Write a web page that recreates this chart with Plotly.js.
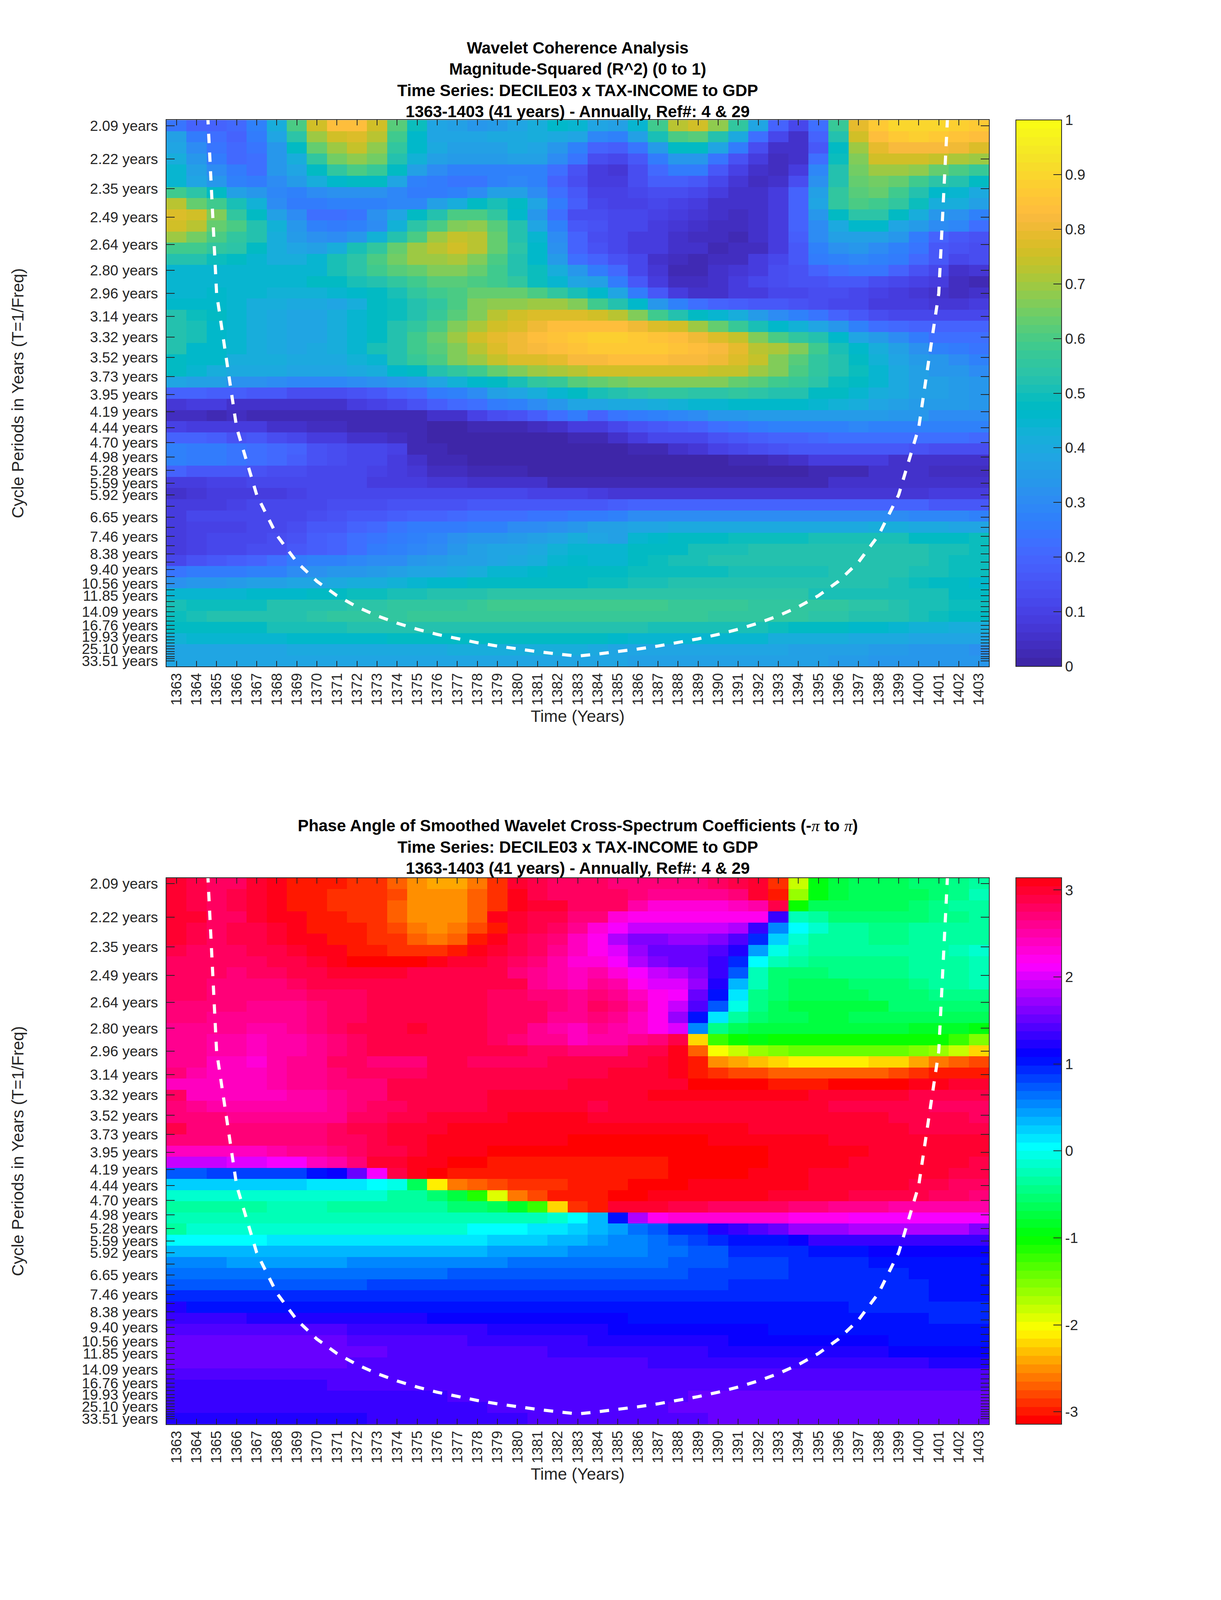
<!DOCTYPE html>
<html><head><meta charset="utf-8">
<script src="https://cdn.plot.ly/plotly-3.0.1.min.js"></script>
<style>html,body{margin:0;padding:0;background:#fff}</style></head>
<body><div id="chart"></div>
<script>
const years=[1363,1364,1365,1366,1367,1368,1369,1370,1371,1372,1373,1374,1375,1376,1377,1378,1379,1380,1381,1382,1383,1384,1385,1386,1387,1388,1389,1390,1391,1392,1393,1394,1395,1396,1397,1398,1399,1400,1401,1402,1403];
const tickPeriods=[2.09,2.22,2.35,2.49,2.64,2.80,2.96,3.14,3.32,3.52,3.73,3.95,4.19,4.44,4.70,4.98,5.28,5.59,5.92,6.27,6.65,7.05,7.46,7.91,8.38,8.88,9.40,9.96,10.56,11.19,11.85,12.55,13.30,14.09,14.93,15.82,16.76,17.75,18.81,19.93,21.11,22.37,23.70,25.10,26.59,28.17,29.85,31.63,33.51];
const tickLabels=['2.09 years','2.22 years','2.35 years','2.49 years','2.64 years','2.80 years','2.96 years','3.14 years','3.32 years','3.52 years','3.73 years','3.95 years','4.19 years','4.44 years','4.70 years','4.98 years','5.28 years','5.59 years','5.92 years','','6.65 years','','7.46 years','','8.38 years','','9.40 years','','10.56 years','','11.85 years','','','14.09 years','','','16.76 years','','','19.93 years','','','','25.10 years','','','','','33.51 years'];
const coiYears=[1364,1365,1366,1367,1368,1369,1370,1371,1372,1373,1374,1375,1376,1377,1378,1379,1380,1381,1382,1383,1384,1385,1386,1387,1388,1389,1390,1391,1392,1393,1394,1395,1396,1397,1398,1399,1400,1401,1402];
const coiPeriods=[1.48,2.96,4.44,5.92,7.4,8.88,10.36,11.84,13.32,14.8,16.28,17.76,19.24,20.72,22.2,23.68,25.16,26.64,28.12,29.6,28.12,26.64,25.16,23.68,22.2,20.72,19.24,17.76,16.28,14.8,13.32,11.84,10.36,8.88,7.4,5.92,4.44,2.96,1.48];

const c00=[.24,.20,.19,.21,.27,.42,.60,.75,.83,.83,.76,.62,.49,.38,.36,.33,.35,.38,.41,.46,.44,.39,.37,.44,.58,.72,.76,.68,.55,.38,.19,.11,.23,.57,.79,.87,.90,.90,.90,.885,.87];
const c01=[.36,.26,.23,.20,.26,.38,.54,.70,.76,.77,.72,.59,.46,.39,.38,.39,.40,.40,.41,.40,.38,.29,.27,.36,.50,.60,.62,.53,.40,.23,.11,.06,.19,.53,.75,.83,.865,.885,.87,.85,.83];
const c02=[.38,.31,.24,.21,.24,.34,.47,.63,.70,.74,.68,.56,.46,.40,.37,.37,.37,.40,.39,.34,.27,.19,.18,.24,.35,.47,.47,.38,.26,.14,.06,.05,.17,.48,.70,.79,.82,.82,.82,.80,.78];
const c03=[.42,.33,.26,.21,.22,.33,.42,.55,.65,.68,.65,.53,.43,.37,.35,.35,.35,.37,.36,.30,.24,.13,.11,.16,.26,.34,.33,.24,.15,.08,.04,.06,.22,.49,.67,.75,.76,.76,.745,.71,.70];
const c04=[.45,.36,.30,.26,.23,.33,.39,.47,.56,.60,.57,.47,.37,.31,.28,.27,.27,.28,.28,.23,.15,.08,.07,.13,.21,.25,.25,.17,.10,.06,.04,.09,.29,.53,.65,.70,.70,.68,.64,.60,.57];
const c05=[.45,.39,.34,.27,.26,.30,.35,.42,.46,.48,.47,.39,.28,.25,.24,.24,.28,.29,.27,.20,.13,.09,.08,.13,.18,.18,.16,.12,.07,.04,.06,.14,.32,.53,.63,.65,.63,.58,.54,.52,.47];
const c06=[.58,.54,.47,.37,.33,.29,.28,.30,.32,.32,.32,.29,.26,.25,.27,.31,.36,.37,.31,.23,.16,.10,.10,.11,.14,.14,.12,.09,.06,.05,.09,.19,.37,.55,.61,.63,.58,.53,.46,.44,.40];
const c07=[.72,.64,.59,.50,.43,.31,.25,.25,.27,.28,.28,.29,.29,.36,.42,.47,.51,.47,.38,.26,.18,.11,.10,.10,.11,.10,.08,.06,.05,.05,.08,.19,.38,.55,.60,.59,.55,.49,.42,.42,.36];
const c08=[.77,.75,.66,.56,.47,.37,.30,.23,.22,.24,.32,.38,.47,.53,.60,.60,.55,.46,.33,.23,.14,.14,.12,.11,.10,.08,.07,.05,.04,.05,.08,.19,.33,.47,.54,.54,.47,.41,.34,.32,.28];
const c09=[.76,.73,.64,.60,.52,.43,.33,.27,.25,.27,.30,.43,.54,.60,.66,.68,.62,.52,.38,.28,.17,.15,.12,.11,.09,.07,.06,.04,.04,.05,.08,.19,.30,.40,.46,.46,.39,.35,.30,.29,.23];
const c10=[.70,.65,.60,.55,.52,.41,.35,.32,.31,.34,.43,.52,.60,.69,.74,.72,.63,.53,.45,.30,.19,.14,.11,.09,.09,.06,.04,.04,.03,.05,.09,.18,.31,.36,.37,.37,.33,.26,.19,.17,.15];
const c11=[.59,.58,.55,.54,.47,.41,.38,.36,.42,.50,.56,.64,.70,.72,.76,.72,.64,.54,.46,.32,.20,.15,.12,.09,.09,.05,.05,.03,.04,.04,.09,.17,.27,.32,.33,.31,.28,.24,.17,.15,.13];
const c12=[.53,.53,.49,.47,.45,.42,.42,.44,.50,.54,.60,.65,.70,.70,.71,.67,.60,.53,.46,.35,.23,.20,.15,.12,.05,.04,.02,.04,.04,.08,.12,.17,.25,.28,.29,.28,.26,.21,.16,.12,.13];
const c13=[.45,.45,.44,.44,.44,.44,.45,.45,.50,.54,.59,.62,.64,.66,.66,.64,.59,.53,.49,.42,.33,.26,.21,.12,.07,.03,.02,.05,.07,.09,.13,.15,.19,.23,.24,.24,.20,.15,.11,.06,.07];
const c14=[.45,.45,.45,.45,.45,.45,.45,.47,.48,.50,.53,.56,.59,.62,.62,.60,.59,.55,.49,.44,.39,.36,.26,.16,.08,.04,.04,.05,.09,.11,.13,.15,.15,.17,.17,.14,.12,.10,.08,.04,.03];
const c15=[.45,.45,.46,.45,.44,.43,.43,.43,.45,.46,.48,.51,.55,.58,.60,.63,.63,.63,.60,.55,.51,.46,.38,.26,.16,.09,.06,.05,.08,.09,.11,.12,.13,.13,.12,.10,.09,.07,.05,.04,.05];
const c16=[.46,.46,.46,.44,.42,.41,.40,.40,.39,.41,.47,.49,.52,.56,.60,.66,.68,.68,.70,.70,.66,.58,.53,.46,.34,.27,.22,.19,.18,.17,.16,.15,.13,.11,.11,.09,.09,.09,.07,.07,.09];
const c17=[.52,.49,.47,.44,.42,.40,.39,.38,.41,.44,.47,.49,.53,.57,.62,.67,.72,.75,.77,.78,.77,.75,.72,.66,.58,.52,.48,.45,.41,.35,.31,.28,.24,.19,.17,.13,.12,.11,.11,.12,.12];
const c18=[.53,.50,.46,.44,.41,.40,.39,.39,.41,.44,.47,.52,.56,.60,.66,.71,.75,.77,.80,.83,.83,.83,.83,.80,.78,.75,.70,.64,.57,.51,.46,.43,.38,.33,.27,.23,.21,.20,.20,.20,.20];
const c19=[.53,.51,.46,.45,.41,.40,.39,.39,.42,.44,.48,.53,.59,.63,.70,.75,.79,.81,.83,.845,.87,.885,.885,.87,.85,.83,.80,.78,.74,.67,.60,.55,.52,.46,.38,.35,.31,.26,.23,.23,.23];
const c20=[.53,.46,.46,.44,.41,.40,.39,.40,.41,.44,.50,.53,.58,.61,.66,.73,.78,.80,.82,.83,.85,.87,.87,.87,.87,.85,.83,.82,.79,.73,.71,.66,.59,.51,.46,.41,.37,.32,.27,.25,.24];
const c21=[.47,.46,.46,.42,.41,.41,.40,.40,.40,.43,.45,.53,.57,.60,.66,.70,.74,.77,.78,.79,.82,.82,.83,.83,.83,.82,.82,.80,.77,.74,.66,.61,.56,.52,.48,.43,.39,.35,.33,.31,.27];
const c22=[.48,.44,.41,.40,.40,.40,.39,.38,.38,.40,.42,.46,.47,.53,.55,.59,.63,.66,.69,.71,.73,.75,.76,.76,.76,.76,.76,.74,.74,.70,.66,.60,.56,.52,.49,.45,.40,.37,.34,.34,.30];
const c23=[.38,.37,.36,.32,.32,.31,.29,.29,.29,.30,.32,.33,.35,.38,.43,.46,.47,.51,.56,.57,.61,.63,.65,.66,.66,.66,.66,.66,.63,.62,.59,.57,.54,.49,.47,.45,.40,.37,.36,.35,.33];
const c24=[.19,.19,.18,.18,.16,.16,.14,.14,.14,.15,.17,.19,.21,.25,.28,.31,.36,.39,.41,.45,.47,.50,.53,.54,.55,.55,.54,.54,.55,.54,.53,.53,.48,.47,.45,.42,.40,.37,.36,.35,.33];
const c25=[.07,.08,.08,.06,.06,.06,.05,.05,.06,.08,.10,.12,.15,.18,.21,.23,.26,.28,.31,.34,.38,.39,.40,.40,.41,.43,.44,.45,.46,.46,.46,.46,.45,.43,.42,.39,.37,.35,.35,.35,.34];
const c26=[.04,.04,.03,.04,.03,.03,.03,.02,.02,.02,.02,.02,.03,.05,.06,.10,.13,.15,.18,.22,.25,.20,.24,.26,.27,.29,.31,.33,.34,.35,.35,.35,.35,.35,.35,.35,.33,.33,.31,.31,.31];
const c27=[.10,.09,.09,.08,.08,.06,.05,.04,.04,.03,.02,.02,.02,.01,.01,.02,.02,.02,.04,.05,.08,.09,.11,.15,.16,.18,.20,.22,.24,.26,.27,.27,.28,.28,.29,.28,.28,.28,.28,.27,.27];
const c28=[.19,.19,.18,.15,.16,.14,.12,.08,.08,.06,.05,.04,.03,.01,.01,.01,.01,.01,.01,.01,.02,.03,.05,.08,.11,.12,.12,.15,.17,.18,.19,.20,.21,.22,.22,.23,.23,.23,.23,.22,.21];
const c29=[.27,.25,.25,.24,.23,.21,.19,.15,.14,.12,.12,.10,.03,.02,.01,.01,0,0,0,0,0,0,0,.02,.03,.06,.07,.10,.12,.14,.15,.16,.16,.16,.17,.17,.16,.15,.14,.13,.13];
const c30=[.27,.25,.25,.24,.22,.21,.18,.15,.14,.12,.12,.09,.06,.03,.03,.01,.01,0,0,0,0,0,0,0,0,0,0,.01,.02,.02,.04,.05,.08,.08,.09,.08,.06,.06,.05,.05,.06];
const c31=[.19,.17,.16,.16,.15,.14,.13,.12,.11,.11,.10,.08,.07,.04,.04,.03,.02,.02,.01,0,0,0,0,0,0,0,0,.01,.01,.01,.01,.01,.03,.03,.03,.05,.05,.05,.04,.04,.04];
const c32=[.08,.09,.10,.10,.11,.11,.11,.11,.11,.11,.09,.09,.08,.07,.07,.05,.05,.06,.05,.03,.02,.02,.02,.02,.02,.02,.02,.02,.02,.03,.03,.03,.03,.05,.05,.05,.05,.05,.06,.06,.06];
const c33=[.06,.07,.08,.08,.09,.09,.10,.11,.11,.11,.12,.12,.12,.12,.12,.12,.12,.11,.10,.10,.10,.09,.07,.07,.07,.07,.07,.07,.07,.07,.07,.07,.07,.07,.07,.07,.07,.07,.08,.08,.08];
const c34=[.09,.09,.09,.10,.11,.11,.11,.11,.13,.13,.13,.15,.15,.15,.15,.16,.17,.17,.17,.17,.17,.17,.18,.19,.19,.19,.19,.19,.19,.19,.19,.19,.19,.19,.19,.19,.19,.19,.17,.17,.17];
const c35=[.09,.11,.11,.11,.11,.12,.12,.14,.15,.16,.17,.18,.19,.20,.21,.22,.22,.23,.24,.24,.25,.26,.27,.30,.30,.30,.30,.30,.30,.30,.30,.30,.30,.30,.30,.30,.30,.29,.29,.29,.28];
const c36=[.09,.10,.10,.10,.11,.12,.14,.16,.17,.19,.21,.24,.25,.26,.26,.28,.28,.30,.31,.32,.33,.36,.36,.38,.39,.40,.40,.40,.40,.40,.40,.40,.40,.40,.40,.41,.41,.40,.40,.38,.38];
const c37=[.09,.10,.11,.12,.12,.13,.15,.18,.20,.22,.24,.26,.27,.29,.32,.33,.34,.35,.37,.39,.41,.39,.37,.44,.46,.47,.48,.48,.49,.49,.49,.49,.50,.50,.50,.50,.50,.47,.48,.48,.49];
const c38=[.09,.10,.11,.12,.13,.14,.17,.18,.20,.23,.25,.28,.29,.31,.34,.36,.38,.39,.40,.43,.45,.45,.45,.48,.47,.48,.51,.51,.51,.53,.53,.53,.53,.53,.53,.53,.53,.53,.50,.50,.49];
const c39=[.12,.15,.17,.18,.20,.22,.25,.27,.27,.29,.30,.31,.34,.35,.36,.37,.38,.40,.42,.44,.46,.44,.45,.48,.49,.50,.50,.52,.52,.52,.52,.52,.53,.53,.53,.53,.52,.52,.50,.49,.49];
const c40=[.24,.25,.25,.26,.27,.28,.30,.32,.33,.34,.35,.37,.38,.39,.40,.42,.44,.44,.46,.47,.48,.47,.47,.49,.49,.49,.49,.49,.51,.51,.51,.51,.51,.53,.53,.53,.52,.51,.50,.49,.49];
const c41=[.32,.33,.34,.35,.36,.37,.38,.39,.40,.41,.42,.43,.44,.46,.46,.47,.47,.47,.47,.47,.48,.49,.49,.50,.51,.52,.52,.52,.52,.52,.52,.52,.52,.52,.52,.52,.50,.49,.47,.47,.46];
const c42=[.45,.44,.44,.45,.46,.46,.46,.47,.48,.49,.49,.50,.50,.52,.52,.53,.54,.54,.54,.54,.54,.54,.54,.54,.54,.54,.54,.54,.54,.54,.54,.54,.51,.51,.51,.51,.51,.50,.50,.48,.47];
const c43=[.50,.49,.49,.49,.49,.52,.52,.53,.53,.54,.54,.55,.56,.56,.56,.57,.58,.58,.58,.58,.58,.58,.59,.59,.59,.57,.57,.57,.57,.56,.56,.56,.55,.55,.54,.54,.53,.50,.50,.49,.49];
const c44=[.49,.51,.52,.52,.52,.52,.53,.54,.55,.55,.56,.56,.57,.57,.57,.57,.57,.57,.57,.57,.57,.57,.57,.57,.57,.57,.57,.56,.56,.56,.55,.55,.54,.54,.53,.53,.52,.50,.49,.48,.48];
const c45=[.47,.47,.47,.48,.48,.50,.50,.50,.50,.52,.52,.52,.52,.52,.52,.52,.52,.52,.52,.52,.52,.53,.53,.53,.50,.50,.50,.50,.50,.50,.49,.47,.47,.47,.46,.46,.45,.43,.43,.42,.42];
const c46=[.43,.44,.45,.45,.45,.45,.46,.46,.46,.46,.46,.47,.47,.47,.47,.47,.47,.47,.47,.47,.47,.47,.46,.45,.45,.45,.45,.44,.44,.44,.42,.41,.41,.41,.40,.40,.40,.38,.38,.38,.38];
const c47=[.39,.39,.39,.39,.39,.39,.40,.40,.40,.40,.40,.40,.40,.40,.41,.41,.41,.41,.41,.41,.41,.40,.39,.39,.39,.39,.38,.38,.38,.38,.38,.37,.37,.36,.36,.35,.35,.34,.34,.33,.32];
const c48=[.38,.38,.38,.38,.38,.38,.38,.38,.38,.38,.38,.38,.38,.38,.38,.38,.38,.38,.38,.38,.38,.38,.38,.37,.37,.37,.37,.37,.37,.37,.36,.36,.36,.35,.35,.34,.34,.34,.33,.33,.33];

const p00=[2.95,2.85,2.82,2.82,2.95,3.05,-3.03,-3.03,-3.03,-2.92,-2.92,-2.72,-2.55,-2.43,-2.43,-2.62,-2.88,3.02,2.88,2.75,2.75,2.75,2.72,2.72,2.72,2.72,2.72,2.82,2.85,3.02,-2.85,-1.85,-.95,-.75,-.65,-.62,-.62,-.58,-.52,-.45,-.3];
const p01=[3,2.9,2.82,2.85,3,3.13,-3.02,-3.02,-2.92,-2.92,-2.92,-2.75,-2.55,-2.55,-2.55,-2.72,-2.88,3.07,2.92,2.82,2.75,2.8,2.8,2.72,2.58,2.58,2.58,2.58,2.68,2.95,-3,-1.6,-.9,-.72,-.65,-.65,-.65,-.6,-.5,-.45,-.28];
const p02=[3,2.9,2.82,2.85,3,3.13,-3.02,-3.02,-2.92,-2.92,-2.92,-2.72,-2.55,-2.5,-2.5,-2.72,-2.88,3.07,2.95,2.95,2.75,2.78,2.75,2.5,2.35,2.35,2.35,2.35,2.45,2.55,2.85,-1,-.65,-.62,-.62,-.62,-.62,-.52,-.42,-.38,-.3];
const p03=[2.95,2.95,2.82,2.82,2.95,3.08,3.13,-3.02,-3.02,-2.92,-2.92,-2.72,-2.55,-2.5,-2.5,-2.7,3.1,3,2.9,2.85,2.7,2.7,2.35,2.2,2.2,2.2,2.2,2.2,2.2,2.2,1.3,-.2,-.3,-.55,-.55,-.55,-.55,-.55,-.45,-.42,-.3];
const p04=[2.95,2.88,2.82,2.85,2.92,3.02,3.12,-3.02,-3.02,-3.02,-2.92,-2.82,-2.6,-2.5,-2.6,-2.82,-3,2.95,2.88,2.8,2.6,2.3,2.15,1.9,1.9,1.9,1.9,1.9,1.85,1.35,.5,.05,-.12,-.35,-.35,-.42,-.42,-.38,-.33,-.3,-.3];
const p05=[2.95,2.88,2.82,2.85,2.92,3.02,3.07,3.13,-3.02,-3.02,-2.92,-2.85,-2.72,-2.62,-2.72,-2.95,3.13,2.9,2.82,2.7,2.45,2.2,1.85,1.6,1.6,1.75,1.75,1.65,1.45,.95,.2,-.1,-.35,-.38,-.38,-.42,-.42,-.38,-.33,-.3,-.3];
const p06=[2.9,2.82,2.78,2.78,2.85,2.92,3,3.05,3.13,-2.98,-2.98,-2.9,-2.9,-2.9,-3,3.13,3,2.92,2.75,2.62,2.45,2.2,2,1.7,1.55,1.55,1.55,1.4,1.2,.42,-.05,-.2,-.3,-.38,-.38,-.38,-.38,-.33,-.3,-.28,-.15];
const p07=[2.82,2.8,2.78,2.76,2.82,2.87,2.92,2.97,3.05,-3.14,-3.14,-3.14,-3.14,3.05,3,2.95,2.9,2.75,2.7,2.55,2.35,2.3,2.15,1.8,1.6,1.5,1.5,1.3,.95,.05,-.25,-.35,-.42,-.42,-.42,-.42,-.42,-.35,-.33,-.3,-.25];
const p08=[2.82,2.78,2.76,2.74,2.76,2.8,2.85,2.92,2.97,2.97,2.97,2.97,2.9,2.9,2.9,2.9,2.87,2.7,2.65,2.55,2.4,2.55,2.3,2.15,1.95,1.8,1.6,1.35,.7,-.2,-.5,-.5,-.55,-.48,-.48,-.48,-.48,-.38,-.35,-.3,-.25];
const p09=[2.82,2.78,2.74,2.74,2.74,2.74,2.78,2.85,2.88,2.88,2.88,2.88,2.85,2.85,2.85,2.85,2.85,2.85,2.6,2.5,2.45,2.62,2.55,2.2,2.05,2,1.7,1.25,.35,-.25,-.5,-.6,-.6,-.6,-.5,-.5,-.5,-.42,-.38,-.35,-.28];
const p10=[2.78,2.78,2.7,2.7,2.7,2.7,2.7,2.78,2.78,2.78,2.85,2.85,2.85,2.85,2.85,2.85,2.75,2.75,2.7,2.7,2.62,2.7,2.65,2.4,2.2,2.1,1.55,1.02,.15,-.4,-.55,-.65,-.65,-.65,-.65,-.55,-.55,-.5,-.45,-.42,-.42];
const p11=[2.72,2.72,2.72,2.68,2.58,2.58,2.58,2.7,2.78,2.78,2.85,2.85,2.85,2.85,2.85,2.85,2.75,2.75,2.75,2.7,2.58,2.75,2.68,2.5,2.25,1.95,1.4,.7,-.05,-.45,-.6,-.7,-.7,-.7,-.7,-.7,-.55,-.55,-.52,-.52,-.5];
const p12=[2.72,2.72,2.65,2.65,2.58,2.58,2.6,2.72,2.78,2.78,2.85,2.85,2.85,2.85,2.85,2.85,2.75,2.75,2.75,2.62,2.58,2.7,2.6,2.45,2.2,1.75,1.05,.1,-.35,-.55,-.65,-.65,-.7,-.7,-.6,-.6,-.6,-.6,-.6,-.6,-.6];
const p13=[2.65,2.65,2.6,2.6,2.48,2.48,2.58,2.68,2.78,2.85,2.85,2.85,3,2.85,2.85,2.85,2.78,2.78,2.65,2.55,2.42,2.6,2.5,2.4,2.25,2.05,.5,-.4,-.65,-.75,-.75,-.75,-.78,-.78,-.78,-.7,-.7,-.8,-.8,-.8,-.9];
const p14=[2.58,2.58,2.55,2.55,2.4,2.5,2.5,2.6,2.68,2.78,2.85,2.85,2.85,2.85,2.85,2.85,2.8,2.72,2.65,2.6,2.45,2.55,2.48,2.65,2.7,2.88,-2.25,-1.2,-1,-.95,-1,-1,-1,-1,-1,-1,-1,-1,-1.05,-1.2,-1.5];
const p15=[2.58,2.58,2.55,2.55,2.42,2.55,2.55,2.6,2.72,2.78,2.85,2.92,2.92,2.85,2.85,2.85,2.85,2.85,2.8,2.8,2.7,2.7,2.72,2.85,2.92,3.12,-2.7,-2.05,-1.85,-1.65,-1.55,-1.45,-1.42,-1.42,-1.42,-1.42,-1.42,-1.52,-1.65,-1.78,-2.25];
const p16=[2.58,2.58,2.45,2.38,2.35,2.5,2.6,2.65,2.75,2.8,2.72,2.72,2.72,2.85,2.85,2.82,2.82,2.82,2.82,2.85,2.88,2.85,2.85,2.9,3,3.13,-2.95,-2.55,-2.4,-2.35,-2.25,-2.1,-2.1,-2.1,-2.1,-2.25,-2.25,-2.42,-2.6,-2.7,-2.8];
const p17=[2.68,2.5,2.42,2.38,2.38,2.5,2.6,2.62,2.72,2.75,2.78,2.82,2.82,2.85,2.88,2.88,2.88,2.92,2.92,2.92,2.92,2.88,2.95,3.02,3.02,3.07,-3.02,-2.92,-2.78,-2.78,-2.72,-2.72,-2.72,-2.72,-2.72,-2.72,-2.82,-2.92,-2.95,-3.02,-3.02];
const p18=[2.38,2.4,2.38,2.38,2.38,2.48,2.58,2.6,2.7,2.72,2.72,2.85,2.85,2.92,2.92,2.92,2.92,2.92,2.92,2.92,3,2.98,2.98,3,3.02,3.02,-3.14,-3.14,-3.14,-3.1,-3.02,-3.02,-3.02,-3.14,-3.14,-3.14,-3.14,3.08,3.05,3.02,3.02];
const p19=[2.8,2.45,2.45,2.42,2.42,2.45,2.55,2.55,2.65,2.72,2.7,2.85,2.88,2.9,2.92,2.92,3,3.02,3.02,3.02,3.02,3,3.02,3.02,3.05,3.05,3.05,3.1,3.1,3.1,3.1,3.1,3,2.98,2.98,2.98,2.98,2.9,2.85,2.85,2.85];
const p20=[2.72,2.62,2.55,2.55,2.55,2.55,2.55,2.55,2.6,2.68,2.75,2.78,2.88,2.92,2.92,2.92,3,3,3,3,3,2.92,2.95,3,3,3,3,3,3,3,3,3,3,2.92,2.92,2.92,2.92,2.85,2.8,2.75,2.75];
const p21=[2.72,2.7,2.68,2.65,2.65,2.65,2.65,2.65,2.65,2.75,2.82,2.9,2.92,2.95,2.95,3,3.02,3.05,3.05,3.05,3.05,3.02,3,3.02,3.02,3.02,3.02,3.02,3.02,3.02,3.02,3.02,3.02,2.95,2.95,2.95,2.9,2.9,2.9,2.85,2.78];
const p22=[2.88,2.72,2.72,2.7,2.7,2.7,2.72,2.72,2.82,2.88,2.88,2.95,3,3,3.05,3.05,3.05,3.05,3.05,3.1,3.1,3.1,3.08,3.08,3.08,3.08,3.08,3.08,3.07,3,3,3,3,3,3,3,3,2.88,2.88,2.85,2.85];
const p23=[2.72,2.72,2.7,2.68,2.68,2.72,2.72,2.72,2.8,2.82,2.9,2.95,3,3.05,3.05,3.1,3.1,3.1,3.1,3.1,-3.14,-3.14,-3.14,-3.14,-3.14,-3.14,-3.14,3.05,3.05,3.05,3.05,3.05,3.05,3,3,3,2.98,2.95,2.95,2.95,2.95];
const p24=[2.4,2.4,2.4,2.42,2.42,2.52,2.6,2.65,2.72,2.8,2.85,2.92,3,3.07,3.07,3.07,-3.14,-3.14,-3.14,-3.14,-3.14,-3.14,-3.14,-3.14,-3.14,-3.14,-3.14,-3.14,-3.14,-3.14,3.08,3.08,3.08,3.08,3.05,3,3,3,3,3,3];
const p25=[1.95,1.9,1.9,2,2.05,2.15,2.15,2.4,2.55,2.72,2.95,3.02,3.08,3.14,-3.14,-3.14,-3.03,-3.03,-3.03,-3.03,-3.03,-3.03,-3.03,-3.03,-3.03,-3.14,-3.14,-3.14,-3.14,-3.14,3.05,3.05,3.05,3.05,2.95,2.95,2.95,2.95,2.95,2.95,2.85];
const p26=[.75,.75,.85,.88,.88,.88,.88,1.05,1.15,1.55,2.15,2.85,3.1,-3.14,-3.03,-3.03,-3.03,-3.03,-3.03,-3.03,-3.03,-3.03,-3.03,-3.03,-3.03,-3.14,-3.14,-3.14,-3.14,3.1,3.1,3.1,3,3,3,3,3,2.95,2.95,2.9,2.9];
const p27=[.2,.2,.2,.2,.2,.2,.2,.12,.12,.1,.05,-.08,-.6,-2.15,-2.65,-2.72,-2.8,-2.92,-2.92,-2.92,-3.03,-3.03,-3.03,-3.14,-3.14,-3.14,3.1,3.08,3.08,3.05,3.05,3.05,3,3,3,2.95,2.95,2.85,2.85,2.82,2.82];
const p28=[-.15,-.15,-.15,-.15,-.15,-.15,-.15,-.15,-.15,-.15,-.15,-.3,-.33,-.52,-.75,-1.15,-1.95,-2.6,-2.75,-2.95,-3,-3.03,-3.14,-3.14,3.07,3.07,3.05,3.05,3.05,3.05,2.98,2.98,2.98,2.95,2.9,2.9,2.88,2.85,2.82,2.75,2.72];
const p29=[-.38,-.38,-.38,-.38,-.38,-.25,-.25,-.25,-.33,-.33,-.33,-.33,-.33,-.35,-.5,-.55,-.65,-.8,-1.2,-2.25,-2.9,-3.03,3.02,3.02,3,2.92,2.92,2.82,2.82,2.78,2.78,2.7,2.7,2.62,2.62,2.6,2.55,2.55,2.55,2.55,2.55];
const p30=[-.28,-.28,-.28,-.28,-.28,-.28,-.28,-.28,-.28,-.28,-.28,-.28,-.28,-.28,-.28,-.28,-.28,-.28,-.28,-.15,0,.35,1.05,1.85,2.2,2.28,2.3,2.3,2.3,2.3,2.3,2.25,2.25,2.2,2.15,2.15,2.15,2.15,2.15,2.15,2.13];
const p31=[-.35,-.12,-.12,-.12,-.12,-.12,-.12,-.12,-.12,-.12,-.12,-.12,-.12,-.12,-.12,0,0,0,.12,.12,.2,.35,.4,.6,.75,.95,.95,1.2,1.3,1.45,1.55,1.75,1.75,1.75,1.85,1.85,1.85,1.85,1.85,1.85,1.65];
const p32=[.02,.02,.02,.02,.02,.15,.15,.15,.15,.15,.15,.15,.15,.15,.15,.15,.22,.22,.22,.33,.33,.43,.52,.52,.6,.72,.8,.92,1.02,1.05,1.05,1.15,1.3,1.35,1.35,1.35,1.35,1.35,1.35,1.35,1.35];
const p33=[.33,.33,.33,.33,.33,.33,.33,.33,.33,.33,.33,.33,.33,.33,.33,.33,.42,.42,.42,.42,.52,.55,.55,.55,.68,.68,.78,.78,.9,.9,.95,.95,1.05,1.05,1.05,1.12,1.12,1.12,1.12,1.12,1.12];
const p34=[.52,.52,.52,.45,.45,.45,.45,.45,.45,.52,.52,.52,.52,.52,.52,.52,.52,.63,.63,.63,.63,.6,.68,.68,.68,.75,.75,.75,.87,.87,.87,.97,.97,.97,.97,1.05,1.05,1.05,1.05,1.05,1.05];
const p35=[.66,.66,.66,.66,.66,.66,.66,.66,.66,.66,.66,.66,.66,.66,.74,.74,.74,.74,.74,.74,.74,.72,.72,.72,.72,.72,.82,.82,.82,.82,.82,.92,.92,.92,.92,.92,.92,1.03,1.03,1.03,1.03];
const p36=[.76,.76,.76,.76,.76,.76,.76,.76,.76,.76,.83,.83,.83,.83,.83,.83,.83,.83,.83,.83,.85,.83,.83,.83,.83,.83,.83,.83,.95,.95,.95,.95,.95,.95,.95,.95,.95,.95,1.05,1.05,1.05];
const p37=[.9,.9,.9,.9,.9,.9,.9,.9,.9,.9,.9,.9,.9,.9,.9,.9,.9,.97,.97,.97,.97,.97,.97,.97,.97,.97,.97,.97,.97,.97,.97,.97,.97,.97,.97,.97,.97,.97,1.04,1.04,1.04];
const p38=[1.2,1.05,1.05,1.05,1.05,1.05,1.05,1.05,1.05,1.05,1.05,1.05,1.05,1.05,1.05,1.05,1.05,1.05,1.05,1.05,1.05,1.05,1.05,1.05,1.05,1.05,1.05,1.05,1.05,1.05,1.05,1.05,1.05,1.05,.97,.97,.97,.97,.97,.97,.97];
const p39=[1.3,1.3,1.3,1.3,1.2,1.2,1.2,1.2,1.2,1.2,1.2,1.2,1.2,1.13,1.13,1.13,1.13,1.13,1.13,1.13,1.13,1.15,1.15,1.05,1.05,1.05,1.05,1.05,1.05,1.05,1.05,1.05,1.05,1.05,1.05,1.05,1.05,1.05,.97,.97,.97];
const p40=[1.38,1.38,1.38,1.38,1.38,1.38,1.38,1.38,1.38,1.28,1.28,1.28,1.28,1.28,1.28,1.28,1.18,1.18,1.18,1.18,1.18,1.18,1.14,1.14,1.14,1.14,1.14,1.14,1.14,1.14,1.05,1.05,1.05,1.05,1.05,1.05,1.05,1.05,1.05,1.05,1.05];
const p41=[1.55,1.55,1.55,1.55,1.55,1.55,1.55,1.55,1.55,1.45,1.45,1.45,1.45,1.45,1.45,1.35,1.35,1.35,1.35,1.35,1.35,1.23,1.23,1.23,1.23,1.23,1.23,1.23,1.15,1.15,1.15,1.15,1.15,1.15,1.15,1.15,1.05,1.05,1.05,1.05,1.05];
const p42=[1.55,1.55,1.55,1.55,1.55,1.55,1.55,1.55,1.55,1.55,1.55,1.47,1.47,1.47,1.47,1.47,1.47,1.47,1.47,1.35,1.35,1.3,1.3,1.3,1.3,1.3,1.3,1.22,1.22,1.22,1.22,1.22,1.22,1.22,1.22,1.22,1.15,1.15,1.15,1.15,1.15];
const p43=[1.55,1.55,1.55,1.55,1.55,1.55,1.55,1.55,1.55,1.47,1.47,1.47,1.47,1.47,1.47,1.47,1.47,1.47,1.47,1.47,1.47,1.47,1.47,1.47,1.35,1.35,1.35,1.35,1.35,1.35,1.35,1.35,1.35,1.35,1.35,1.35,1.35,1.35,1.25,1.25,1.25];
const p44=[1.43,1.43,1.43,1.43,1.43,1.43,1.43,1.43,1.43,1.43,1.43,1.43,1.43,1.43,1.43,1.43,1.43,1.43,1.43,1.43,1.43,1.43,1.43,1.43,1.43,1.43,1.43,1.43,1.43,1.43,1.43,1.43,1.43,1.43,1.43,1.43,1.43,1.43,1.43,1.43,1.43];
const p45=[1.35,1.35,1.35,1.35,1.35,1.35,1.35,1.35,1.43,1.43,1.43,1.43,1.43,1.43,1.43,1.43,1.43,1.43,1.43,1.43,1.43,1.43,1.43,1.43,1.43,1.43,1.43,1.43,1.43,1.43,1.43,1.43,1.43,1.43,1.43,1.43,1.43,1.43,1.43,1.43,1.43];
const p46=[1.35,1.35,1.35,1.35,1.35,1.35,1.35,1.35,1.35,1.35,1.35,1.35,1.35,1.35,1.43,1.43,1.43,1.43,1.43,1.43,1.43,1.43,1.43,1.43,1.43,1.43,1.55,1.55,1.55,1.55,1.55,1.55,1.55,1.55,1.55,1.55,1.55,1.55,1.55,1.55,1.55];
const p47=[1.28,1.28,1.28,1.28,1.28,1.35,1.35,1.35,1.35,1.35,1.35,1.35,1.35,1.35,1.35,1.35,1.43,1.43,1.43,1.43,1.43,1.43,1.43,1.43,1.43,1.55,1.55,1.55,1.55,1.55,1.55,1.55,1.55,1.55,1.55,1.55,1.55,1.55,1.55,1.55,1.55];
const p48=[1.25,1.25,1.25,1.25,1.25,1.25,1.25,1.25,1.25,1.25,1.33,1.33,1.33,1.33,1.33,1.33,1.33,1.33,1.43,1.43,1.43,1.43,1.43,1.43,1.43,1.43,1.43,1.55,1.55,1.55,1.55,1.55,1.55,1.55,1.55,1.55,1.55,1.55,1.55,1.55,1.55];

const parula=[[.2422,.1504,.6603],[.2504,.1650,.7076],[.2578,.1818,.7511],[.2647,.1978,.7952],[.2706,.2147,.8364],[.2751,.2342,.8710],[.2783,.2559,.8991],[.2803,.2782,.9221],[.2813,.3006,.9414],[.2810,.3228,.9579],[.2795,.3447,.9717],[.2760,.3667,.9829],[.2699,.3892,.9906],[.2602,.4123,.9952],[.2440,.4358,.9988],[.2206,.4603,.9973],[.1963,.4847,.9892],[.1834,.5074,.9798],[.1786,.5289,.9682],[.1764,.5499,.9520],[.1687,.5703,.9359],[.1540,.5902,.9218],[.1460,.6091,.9079],[.1380,.6276,.8973],[.1248,.6459,.8883],[.1113,.6635,.8763],[.0952,.6798,.8598],[.0689,.6948,.8394],[.0297,.7082,.8163],[.0036,.7203,.7917],[.0067,.7312,.7660],[.0433,.7411,.7394],[.0964,.7500,.7120],[.1408,.7584,.6842],[.1717,.7670,.6554],[.1938,.7758,.6251],[.2161,.7843,.5923],[.2470,.7918,.5567],[.2906,.7973,.5188],[.3406,.8008,.4789],[.3909,.8029,.4354],[.4456,.8024,.3909],[.5044,.7993,.3480],[.5616,.7942,.3045],[.6174,.7876,.2612],[.6720,.7793,.2227],[.7242,.7698,.1910],[.7738,.7598,.1646],[.8203,.7498,.1535],[.8634,.7406,.1596],[.9035,.7330,.1774],[.9393,.7288,.2100],[.9728,.7298,.2394],[.9956,.7434,.2371],[.9970,.7659,.2199],[.9952,.7893,.2028],[.9892,.8136,.1885],[.9786,.8386,.1766],[.9676,.8639,.1643],[.9610,.8890,.1537],[.9597,.9135,.1423],[.9628,.9373,.1265],[.9691,.9606,.1064],[.9769,.9839,.0805]];

/* Design coordinates are those of the 3125x6252 reference. The sandbox window may be shorter,
   so vertical positions and font sizes follow the space really available. */
const W=3125,H0=6252,H=Math.min(window.innerHeight||H0,H0),SY=H/H0;
const INK='#262626',FONT='"Liberation Sans", Arial, sans-serif';
const plot={left:426,right:2531,top1:469,bot1:2604,top2:3431,bot2:5565,barX:2600,barT:117};
const tickFont=57*SY,labelFont=65*SY,titleFont=64*SY;
document.getElementById('chart').style.cssText=`width:${W}px;height:${H}px`;

const cohZ=[c00,c01,c02,c03,c04,c05,c06,c07,c08,c09,c10,c11,c12,c13,c14,c15,c16,c17,c18,c19,c20,c21,c22,c23,c24,c25,c26,c27,c28,c29,c30,c31,c32,c33,c34,c35,c36,c37,c38,c39,c40,c41,c42,c43,c44,c45,c46,c47,c48];
const phaseZ=[p00,p01,p02,p03,p04,p05,p06,p07,p08,p09,p10,p11,p12,p13,p14,p15,p16,p17,p18,p19,p20,p21,p22,p23,p24,p25,p26,p27,p28,p29,p30,p31,p32,p33,p34,p35,p36,p37,p38,p39,p40,p41,p42,p43,p44,p45,p46,p47,p48];

const fTop=1/tickPeriods[0],fBot=1/tickPeriods[tickPeriods.length-1],df=(fTop-fBot)/48;
const rowFreq=cohZ.map((_,i)=>fTop-i*df);
const tickFreq=tickPeriods.map(p=>1/p);
const coiFreq=coiPeriods.map(p=>1/p);

function discrete(cols){const n=cols.length,o=[];cols.forEach((c,i)=>{o.push([i/n,c]);o.push([(i+1)/n,c]);});return o;}
const parulaScale=discrete(parula.map(c=>`rgb(${c.map(v=>Math.round(v*255)).join(',')})`));
function hsv(h){const i=Math.floor(h*6),f=h*6-i,q=1-f;const r=[[1,f,0],[q,1,0],[0,1,f],[0,q,1],[f,0,1],[1,0,q]][i%6];return `rgb(${r.map(v=>Math.round(v*255)).join(',')})`;}
const hsvScale=discrete(Array.from({length:64},(_,i)=>hsv(i/64)));

function bar(yBot,vals,txt){return {thickness:plot.barT,thicknessmode:'pixels',len:(plot.bot1-plot.top1)/H0,lenmode:'fraction',x:plot.barX/W,xanchor:'left',xref:'paper',xpad:0,y:1-yBot/H0,yanchor:'bottom',yref:'paper',ypad:0,outlinecolor:INK,outlinewidth:2,ticks:'inside',ticklen:22,tickwidth:2,tickcolor:INK,tickmode:'array',tickvals:vals,ticktext:txt,tickfont:{family:FONT,size:tickFont,color:INK}};}

const coiLine={color:'#fff',width:8,dash:'24px,24px'};
const traces=[
 {type:'heatmap',x:years,y:rowFreq,z:cohZ,xaxis:'x',yaxis:'y',zmin:0,zmax:1,zsmooth:false,colorscale:parulaScale,hoverinfo:'skip',colorbar:bar(plot.bot1,[0,.1,.2,.3,.4,.5,.6,.7,.8,.9,1],['0','0.1','0.2','0.3','0.4','0.5','0.6','0.7','0.8','0.9','1'])},
 {type:'scatter',mode:'lines',x:coiYears,y:coiFreq,xaxis:'x',yaxis:'y',line:coiLine,hoverinfo:'skip',showlegend:false},
 {type:'heatmap',x:years,y:rowFreq,z:phaseZ,xaxis:'x2',yaxis:'y2',zmin:-Math.PI,zmax:Math.PI,zsmooth:false,colorscale:hsvScale,hoverinfo:'skip',colorbar:bar(plot.bot2,[-3,-2,-1,0,1,2,3],['-3','-2','-1','0','1','2','3'])},
 {type:'scatter',mode:'lines',x:coiYears,y:coiFreq,xaxis:'x2',yaxis:'y2',line:coiLine,hoverinfo:'skip',showlegend:false}
];

function xAxis(anchor){return {domain:[plot.left/W,plot.right/W],anchor,range:[1362.5,1403.5],tickmode:'array',tickvals:years,ticktext:years.map(String),tickangle:-90,ticks:'inside',ticklen:21*SY,tickwidth:2,tickcolor:INK,showline:true,linecolor:INK,linewidth:2,mirror:'ticks',showgrid:false,zeroline:false,automargin:false,tickfont:{family:FONT,size:tickFont,color:INK},ticklabelstandoff:0,title:{text:'Time (Years)',font:{family:FONT,size:labelFont,color:INK},standoff:13}};}
function yAxis(anchor,top,bot){return {domain:[1-bot/H0,1-top/H0],anchor,range:[fBot-df/2,fTop+df/2],tickmode:'array',tickvals:tickFreq,ticktext:tickLabels,ticks:'inside',ticklen:21,tickwidth:2,tickcolor:INK,showline:true,linecolor:INK,linewidth:2,mirror:'ticks',showgrid:false,zeroline:false,automargin:false,tickfont:{family:FONT,size:tickFont,color:INK},ticklabelstandoff:12,title:{text:'Cycle Periods in Years (T=1/Freq)',font:{family:FONT,size:labelFont,color:INK},standoff:136}};}

const titleFontObj={family:FONT,size:titleFont,color:'#000',weight:700};
const midX=(plot.left+plot.right)/2/W;
const layout={width:W,height:H,margin:{l:0,r:0,t:0,b:0,pad:0},paper_bgcolor:'#fff',plot_bgcolor:'#fff',showlegend:false,
 title:{text:'<b>Wavelet Coherence Analysis<br>Magnitude-Squared (R^2) (0 to 1)<br>Time Series: DECILE03 x TAX-INCOME to GDP<br>1363-1403 (41 years) - Annually, Ref#: 4 & 29</b>',x:midX,xref:'paper',xanchor:'center',y:1-209/H0,yref:'container',yanchor:'top',font:titleFontObj},
 xaxis:xAxis('y'),yaxis:yAxis('x',plot.top1,plot.bot1),xaxis2:xAxis('y2'),yaxis2:yAxis('x2',plot.top2,plot.bot2),
 annotations:[{text:'<b>Phase Angle of Smoothed Wavelet Cross-Spectrum Coefficients (-<span style="font-family:\'Liberation Serif\';font-style:italic;font-weight:normal">π</span> to <span style="font-family:\'Liberation Serif\';font-style:italic;font-weight:normal">π</span>)<br>Time Series: DECILE03 x TAX-INCOME to GDP<br>1363-1403 (41 years) - Annually, Ref#: 4 & 29</b>',xref:'paper',yref:'paper',x:midX,y:1-3431/H0,xanchor:'center',yanchor:'bottom',yshift:0,showarrow:false,font:titleFontObj}]
};
Plotly.newPlot('chart',traces,layout,{displayModeBar:false,responsive:false});
</script></body></html>
